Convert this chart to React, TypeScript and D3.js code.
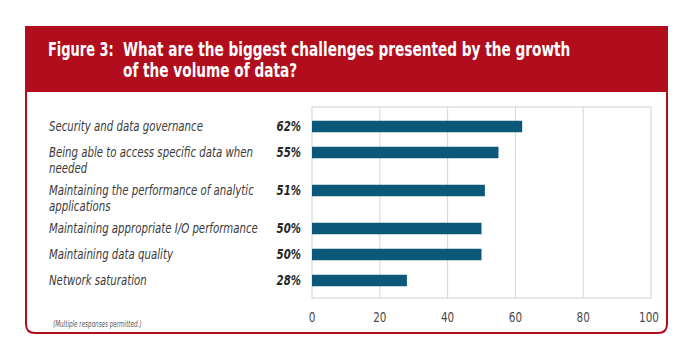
import React from "react";
import * as d3 from "d3";

const categories: string[][] = [
  ["Security and data governance"],
  ["Being able to access specific data when", "needed"],
  ["Maintaining the performance of analytic", "applications"],
  ["Maintaining appropriate I/O performance"],
  ["Maintaining data quality"],
  ["Network saturation"],
];
const values = [62, 55, 51, 50, 50, 28];
const tickValues = [0, 20, 40, 60, 80, 100];

const W = 696;
const H = 364;
const RED = "#b20d1c";
const BAR = "#0c587a";
const FONT = "'DejaVu Sans Condensed', 'DejaVu Sans', sans-serif";

// condensed text: the installed fonts are too wide, so squeeze horizontally
function CText(props: any) {
  const { x, y, sx = 0.84, anchor = "start", children, ...rest } = props;
  return (
    <text transform={`translate(${x},${y}) scale(${sx},1)`} textAnchor={anchor} {...rest}>
      {children}
    </text>
  );
}

export default function App() {
  const plot = { left: 312, right: 651, top: 107, bottom: 298 };
  const x = d3.scaleLinear().domain([0, 100]).range([plot.left, plot.right]);

  // rows get taller when the label wraps onto a second line
  const rowStep = 26;
  const extraLine = 12;
  const offsets: number[] = [];
  let acc = 0;
  categories.forEach((lines) => {
    offsets.push(acc);
    acc += rowStep + extraLine * (lines.length - 1);
  });
  const y = d3.scaleLinear().domain([0, 1]).range([126.5, 127.5]);
  const barH = 11.5;

  const boxL = 26, boxR = 667, boxT = 27, boxB = 333, headB = 92, r = 9;
  const boxPath = `M${boxL},${boxT} H${boxR} V${boxB - r} Q${boxR},${boxB} ${boxR - r},${boxB} H${boxL + r} Q${boxL},${boxB} ${boxL},${boxB - r} Z`;

  return (
    <svg width={W} height={H} style={{ position: "absolute", left: 0, top: 0, background: "#fff" }} fontFamily={FONT}>
      <rect x={0} y={0} width={W} height={H} fill="#fff" />
      <path d={boxPath} fill="#fff" stroke={RED} strokeWidth={2} />
      <rect x={boxL} y={boxT} width={boxR - boxL} height={headB - boxT} fill={RED} />
      <g fill="#fff" fontWeight="bold" fontSize={19}>
        <CText x={48} y={56} sx={0.76}>Figure 3:</CText>
        <CText x={123} y={56} sx={0.8}>What are the biggest challenges presented by the growth</CText>
        <CText x={123} y={77} sx={0.8}>of the volume of data?</CText>
      </g>

      {/* plot frame and grid */}
      <rect x={plot.left} y={plot.top} width={plot.right - plot.left} height={plot.bottom - plot.top} fill="none" stroke="#cfcfcf" strokeWidth={1} />
      {tickValues.slice(1, -1).map((t) => (
        <line key={t} x1={x(t)} x2={x(t)} y1={plot.top} y2={plot.bottom} stroke="#d4d4d4" strokeWidth={1} />
      ))}
      {tickValues.map((t) => (
        <CText key={"t" + t} x={x(t) - (t === 100 ? 2 : 0)} y={322} anchor="middle" sx={0.86} fontSize={13.5} fill="#4a4a4a">{t}</CText>
      ))}

      {values.map((v, i) => {
        const cy = y(offsets[i]);
        return (
          <g key={i}>
            <rect x={x(0)} y={cy - barH / 2} width={x(v) - x(0)} height={barH} fill={BAR} />
            <CText x={301} y={cy + 4.5} anchor="end" sx={0.84} fontSize={13.5} fontWeight="bold" fontStyle="italic" fill="#262626">{v}%</CText>
            {categories[i].map((line, j) => (
              <CText key={j} x={49} y={cy + 4 + j * 16} sx={0.84} fontSize={13.5} fontStyle="italic" fill="#3a3a3a">{line}</CText>
            ))}
          </g>
        );
      })}

      <CText x={53} y={327} sx={0.66} fontSize={9.5} fontStyle="italic" fill="#555">(Multiple responses permitted.)</CText>
    </svg>
  );
}
